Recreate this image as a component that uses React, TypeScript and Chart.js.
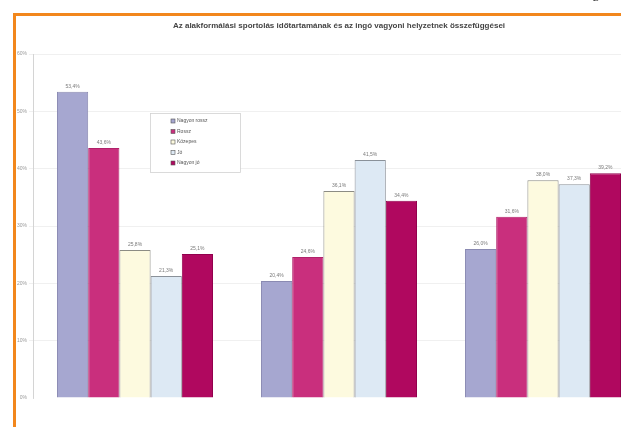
import { useEffect, useRef } from "react";
import { Chart, registerables } from "chart.js";

Chart.register(...registerables);

const TITLE =
  "Az alakformálási sportolás időtartamának és az ingó vagyoni helyzetnek összefüggései";
const CATEGORIES = ["Nem sportol", "Heti 1–2 óra", "Heti 3 óránál több"];
const SERIES_NAMES = ["Nagyon rossz", "Rossz", "Közepes", "Jó", "Nagyon jó"];
const NAGYON_ROSSZ = [53.4, 20.4, 26.0];
const ROSSZ = [43.6, 24.6, 31.6];
const KOZEPES = [25.8, 36.1, 38.0];
const JO = [21.3, 41.5, 37.3];
const NAGYON_JO = [25.1, 34.4, 39.2];
const Y_TICKS = [0, 10, 20, 30, 40, 50, 60];

const FILLS = ["#a6a7d0", "#c92f7d", "#fdfadf", "#dde9f4", "#b0085f"];
const BORDERS = ["#8a8ab2", "#b0226a", "#8c8c84", "#8a9199", "#92004e"];

const fmt = (v: number) => v.toFixed(1).replace(".", ",") + "%";

const decorPlugin = {
  id: "decor",
  afterDatasetsDraw(chart: any) {
    const ctx = chart.ctx;
    ctx.save();
    // value labels
    ctx.font = "5px 'Liberation Sans', Arial, sans-serif";
    ctx.fillStyle = "#7a7a7a";
    ctx.textAlign = "center";
    ctx.textBaseline = "bottom";
    chart.data.datasets.forEach((ds: any, i: number) => {
      const meta = chart.getDatasetMeta(i);
      meta.data.forEach((bar: any, j: number) => {
        ctx.fillText(fmt(ds.data[j]), bar.x, bar.y - 3);
      });
    });
    // title
    ctx.font = "bold 8px 'Liberation Sans', Arial, sans-serif";
    ctx.fillStyle = "#444444";
    ctx.textBaseline = "middle";
    ctx.fillText(TITLE, 339, 26);
    // legend
    const lx = 150, ly = 113, lw = 90, lh = 59;
    ctx.fillStyle = "#ffffff";
    ctx.fillRect(lx, ly, lw, lh);
    ctx.strokeStyle = "#d2d2d2";
    ctx.lineWidth = 0.8;
    ctx.strokeRect(lx + 0.5, ly + 0.5, lw, lh);
    ctx.textAlign = "left";
    ctx.font = "5px 'Liberation Sans', Arial, sans-serif";
    SERIES_NAMES.forEach((name, i) => {
      const y = 121 + i * 10.5;
      ctx.fillStyle = FILLS[i];
      ctx.fillRect(171, y - 2, 4, 4);
      ctx.strokeStyle = "#555";
      ctx.lineWidth = 0.6;
      ctx.strokeRect(171, y - 2, 4, 4);
      ctx.fillStyle = "#555";
      ctx.fillText(name, 177, y);
    });
    ctx.restore();
  },
};

export default function App() {
  const ref = useRef<HTMLCanvasElement | null>(null);

  useEffect(() => {
    if (!ref.current) return;
    const series = [NAGYON_ROSSZ, ROSSZ, KOZEPES, JO, NAGYON_JO];
    const chart = new Chart(ref.current, {
      type: "bar",
      data: {
        labels: CATEGORIES,
        datasets: series.map((d, i) => ({
          label: SERIES_NAMES[i],
          data: d,
          backgroundColor: FILLS[i],
          borderColor: BORDERS[i],
          borderWidth: 1,
          categoryPercentage: 0.765,
          barPercentage: 1,
        })),
      },
      options: {
        responsive: false,
        animation: false,
        layout: { padding: { top: 54, bottom: 29, left: 0, right: 15 } },
        plugins: {
          legend: { display: false },
          title: { display: false },
          tooltip: { enabled: false },
        },
        scales: {
          x: {
            ticks: { display: false },
            grid: { display: false },
            border: { display: false },
            afterFit: (s: any) => {
              s.height = 0;
            },
          },
          y: {
            min: 0,
            max: 60,
            afterBuildTicks: (s: any) => {
              s.ticks = Y_TICKS.map((v) => ({ value: v }));
            },
            ticks: {
              font: { size: 5, family: "'Liberation Sans', Arial, sans-serif" },
              color: "#9a9a9a",
              padding: 2,
              callback: (v: any) => v + "%",
            },
            grid: {
              color: (c: any) => (c.tick && c.tick.value === 0 ? "rgba(0,0,0,0)" : "#ececec"),
              lineWidth: 0.8,
              tickLength: 4,
            },
            border: { color: "#d4d4d4" },
            afterFit: (s: any) => {
              s.width = 33;
            },
          },
        },
      },
      plugins: [decorPlugin],
    });
    return () => chart.destroy();
  }, []);

  return (
    <div
      style={{
        position: "fixed",
        left: 0,
        top: 0,
        width: 621,
        height: 427,
        overflow: "hidden",
        background: "#ffffff",
      }}
    >
      <canvas
        ref={ref}
        width={660}
        height={427}
        style={{ position: "absolute", left: 0, top: 0, width: 660, height: 427 }}
      />
      <div
        style={{
          position: "absolute",
          left: 13,
          top: 13,
          right: 0,
          bottom: 0,
          borderTop: "3px solid #f2871c",
          borderLeft: "3px solid #f2871c",
          pointerEvents: "none",
        }}
      />
      <div
        style={{
          position: "absolute",
          left: 592,
          top: -12,
          fontSize: 15,
          lineHeight: "17px",
          fontFamily: "'Liberation Serif', serif",
          color: "#222",
        }}
      >
        8
      </div>
    </div>
  );
}
